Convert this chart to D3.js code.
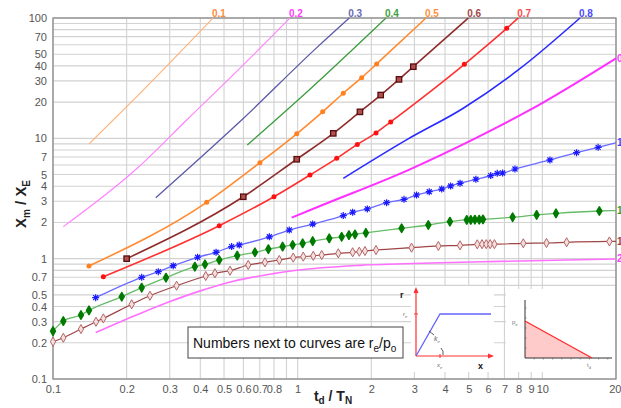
<!DOCTYPE html>
<html><head><meta charset="utf-8">
<script src="https://cdn.jsdelivr.net/npm/d3@7"></script>
<style>
body{margin:0;background:#fff;}
svg{display:block;font-family:"Liberation Sans",Arial,sans-serif;}
</style></head><body>
<svg id="chart" width="621" height="408"></svg>
<script>
// ---------- data ----------
const xTickValues = [0.1,0.2,0.3,0.4,0.5,0.6,0.7,0.8,1,2,3,4,5,6,7,8,9,10,20];
const xTickLabels = ["0.1","0.2","0.3","0.4","0.5","0.6","0.7","0.8","1","2","3","4","5","6","7","8","9","10","20"];
const yTickValues = [0.1,0.2,0.3,0.4,0.5,0.7,1,2,3,4,5,7,10,20,30,40,50,70,100];
const yTickLabels = ["0.1","0.2","0.3","0.4","0.5","0.7","1","2","3","4","5","7","10","20","30","40","50","70","100"];

const curveLabels = ["0.1","0.2","0.3","0.4","0.5","0.6","0.7","0.8","0.9","1.0","1.2","1.5","2.0"];

const c01 = [[0.1403,8.97],[0.2064,19.5],[0.4507,100]];
const c02 = [[0.1102,1.844],[0.2232,5.75],[0.352,14.2],[0.5995,40.7],[0.93,100]];
const c03 = [[0.263,3.21],[0.59,14.2],[1.2,57],[1.625,100]];
const c04 = [[0.6225,8.8],[1.022,21.5],[2.296,100]];
const c05 = [[0.1403,0.869],[0.4247,2.94],[0.701,6.28],[0.991,10.9],[1.265,16.6],[1.536,23.7],[1.826,31.9],[2.103,41.5],[3.345,100]];
const c06 = [[0.2,1.0],[0.5995,3.27],[0.991,6.7],[1.398,11.0],[1.797,16.6],[2.184,22.9],[2.595,30.9],[2.97,39.4],[4.98,100]];
const c07 = [[0.1606,0.708],[0.478,1.88],[0.800,3.27],[1.123,4.96],[1.444,6.82],[1.753,8.9],[2.09,11.1],[2.40,13.7],[4.80,41.2],[7.15,82],[7.97,100]];
const c08 = [[1.536,4.65],[2.806,9.8],[4.75,17.8],[7.97,37],[14.25,100]];
const c09 = [[0.945,2.19],[1.235,2.74],[2.877,5.53],[5.22,9.8],[8.9,17.2],[20,46.2]];
const c10 = [[0.1494,0.474],[0.2304,0.70],[0.2694,0.78],[0.310,0.874],[0.390,1.027],[0.464,1.13],[0.537,1.26],[0.577,1.30],
  [0.766,1.52],[0.924,1.73],[1.152,1.94],[1.536,2.28],[1.678,2.43],[1.926,2.59],[2.31,2.92],[2.72,3.11],[3.06,3.38],
  [3.45,3.60],[3.88,3.79],[4.22,4.02],[4.61,4.23],[5.35,4.57],[6.15,4.90],[6.54,5.12],[6.88,5.15],[7.73,5.56],
  [10.74,6.61],[13.8,7.6],[16.9,8.42],[20,9.2]];
const c12 = [[0.1,0.25],[0.1102,0.303],[0.1301,0.34],[0.1403,0.372],[0.191,0.483],[0.2304,0.574],[0.2896,0.695],
  [0.380,0.858],[0.418,0.898],[0.478,0.975],[0.566,1.06],[0.669,1.13],[0.759,1.20],[0.868,1.26],[0.954,1.30],
  [1.048,1.34],[1.152,1.40],[1.346,1.476],[1.513,1.52],[1.62,1.57],[1.715,1.59],[1.90,1.64],[2.66,1.79],[3.42,1.905],
  [4.19,2.03],[4.91,2.10],[5.10,2.10],[5.30,2.11],[5.52,2.11],[5.72,2.12],[7.56,2.21],[9.48,2.31],[11.37,2.38],[17.1,2.49],[20,2.51]];
const c15 = [[0.1,0.204],[0.1102,0.22],[0.1301,0.26],[0.1499,0.299],[0.1606,0.319],[0.2097,0.418],[0.249,0.492],
  [0.320,0.596],[0.421,0.718],[0.459,0.756],[0.529,0.794],[0.628,0.886],[0.735,0.933],[0.841,0.975],[0.959,1.02],
  [1.054,1.04],[1.158,1.055],[1.254,1.072],[1.466,1.108],[1.678,1.13],[1.786,1.143],[1.884,1.158],[2.09,1.18],
  [2.92,1.234],[3.76,1.275],[4.61,1.29],[5.42,1.316],[5.67,1.32],[5.90,1.32],[6.12,1.32],[6.37,1.32],
  [8.36,1.342],[10.4,1.35],[12.57,1.368],[18.8,1.39],[20,1.392]];
const c20 = [[0.1494,0.243],[0.2232,0.345],[0.3007,0.440],[0.40,0.54],[0.546,0.65],[0.747,0.735],[0.99,0.80],[1.8,0.88],[3.5,0.92],[6.7,0.95],[20,0.994]];

// ---------- layout ----------
const svg = d3.select("#chart");
const L = 53, R = 616, T = 18, B = 379;
const x = d3.scaleLog().domain([0.1,20]).range([L,R]);
const y = d3.scaleLog().domain([0.1,100]).range([B,T]);

// grid
const xGrid = [], yGrid = [];
[0.1,1].forEach(d=>{for(let k=1;k<10;k++) xGrid.push(d*k);}); xGrid.push(10,20);
[0.1,1,10].forEach(d=>{for(let k=1;k<10;k++) yGrid.push(d*k);}); yGrid.push(100);
const grid = svg.append("g");
grid.selectAll(".vg").data(xGrid).join("line").attr("x1",d=>x(d)).attr("x2",d=>x(d)).attr("y1",T).attr("y2",B)
  .attr("stroke","#d2d2d2").attr("stroke-width",1.1);
grid.selectAll(".hg").data(yGrid).join("line").attr("y1",d=>y(d)).attr("y2",d=>y(d)).attr("x1",L).attr("x2",R)
  .attr("stroke","#d2d2d2").attr("stroke-width",1.1);
svg.append("rect").attr("x",L).attr("y",T).attr("width",R-L).attr("height",B-T)
  .attr("fill","none").attr("stroke","#8a8a8a").attr("stroke-width",1.3);

// axes (labels only)
const xAxis = d3.axisBottom(x).tickValues(xTickValues).tickFormat((d,i)=>xTickLabels[i]).tickSize(0).tickPadding(6);
const gx = svg.append("g").attr("transform",`translate(0,${B})`).call(xAxis);
gx.select(".domain").remove();
gx.selectAll("text").attr("fill","#555").attr("font-size",11).attr("font-family","Liberation Sans, Arial, sans-serif");
gx.selectAll(".tick").filter(d=>d===20).select("text").attr("text-anchor","end").attr("x",5);
const yAxis = d3.axisLeft(y).tickValues(yTickValues).tickFormat((d,i)=>yTickLabels[i]).tickSize(0).tickPadding(6);
const gy = svg.append("g").attr("transform",`translate(${L},0)`).call(yAxis);
gy.select(".domain").remove();
gy.selectAll("text").attr("fill","#555").attr("font-size",11).attr("font-family","Liberation Sans, Arial, sans-serif");

// axis titles
const yt = svg.append("text").attr("transform","translate(26,204) rotate(-90)").attr("text-anchor","middle")
  .attr("font-weight","bold").attr("font-size",15).attr("fill","#222");
yt.append("tspan").text("X");
yt.append("tspan").text("m").attr("font-size",10).attr("dy",4);
yt.append("tspan").text(" / X").attr("dy",-4);
yt.append("tspan").text("E").attr("font-size",10).attr("dy",4);
const xt = svg.append("text").attr("x",333).attr("y",401).attr("text-anchor","middle")
  .attr("font-weight","bold").attr("font-size",14).attr("fill","#222");
xt.append("tspan").text("t");
xt.append("tspan").text("d").attr("font-size",10).attr("dy",3);
xt.append("tspan").text(" / T").attr("dy",-3);
xt.append("tspan").text("N").attr("font-size",10).attr("dy",3);

// curves
const curves = [
  {data:c01, label:curveLabels[0], color:"#ffb27a", lc:"#ff8c40", w:1.1, pos:"top"},
  {data:c02, label:curveLabels[1], color:"#ff80ff", lc:"#ff40ff", w:1.1, pos:"top"},
  {data:c03, label:curveLabels[2], color:"#5a5aa8", lc:"#6a6ab8", w:1.3, pos:"top"},
  {data:c04, label:curveLabels[3], color:"#3c9c3c", lc:"#40a040", w:1.3, pos:"top"},
  {data:c05, label:curveLabels[4], color:"#ff8a30", lc:"#ff9040", w:1.6, pos:"top", m:"dotO"},
  {data:c06, label:curveLabels[5], color:"#8e2c2c", lc:"#a04848", w:1.6, pos:"top", m:"square"},
  {data:c07, label:curveLabels[6], color:"#ff3030", lc:"#ff4a4a", w:1.6, pos:"top", m:"dotR"},
  {data:c08, label:curveLabels[7], color:"#2a2aff", lc:"#4a4aff", w:1.6, pos:"top"},
  {data:c09, label:curveLabels[8], color:"#ff30ff", lc:"#ff40ff", w:2, pos:"right"},
  {data:c10, label:curveLabels[9], color:"#6a6aff", lc:"#4040ff", w:1.3, pos:"right", m:"star"},
  {data:c12, label:curveLabels[10], color:"#66bb66", lc:"#30a030", w:1.3, pos:"right", m:"diamondF"},
  {data:c15, label:curveLabels[11], color:"#a04545", lc:"#a04040", w:1.2, pos:"right", m:"diamondH"},
  {data:c20, label:curveLabels[12], color:"#ff70ff", lc:"#ff40ff", w:1.6, pos:"right"}
];
const line = d3.line().x(d=>x(d[0])).y(d=>y(d[1])).curve(d3.curveMonotoneX);
const cg = svg.append("g");
curves.forEach(c=>{
  cg.append("path").attr("d",line(c.data)).attr("fill","none").attr("stroke",c.color).attr("stroke-width",c.w);
  if(c.m){
    const pts = c.data.filter(d=>d[1]<100 && d[0]<20);
    const g = cg.append("g");
    pts.forEach(d=>{
      const px=x(d[0]), py=y(d[1]);
      if(c.m==="dotO") g.append("circle").attr("cx",px).attr("cy",py).attr("r",2.5).attr("fill","#ff8020");
      if(c.m==="dotR") g.append("circle").attr("cx",px).attr("cy",py).attr("r",2.5).attr("fill","#ff1010");
      if(c.m==="square") g.append("rect").attr("x",px-2.7).attr("y",py-2.7).attr("width",5.4).attr("height",5.4)
          .attr("fill","#b05050").attr("stroke","#5a0c0c").attr("stroke-width",1.3);
      if(c.m==="star"){
        g.append("path").attr("d",`M${px-3.5},${py}H${px+3.5}M${px},${py-3.5}V${py+3.5}M${px-2.5},${py-2.5}L${px+2.5},${py+2.5}M${px-2.5},${py+2.5}L${px+2.5},${py-2.5}`)
          .attr("stroke","#1a1aff").attr("stroke-width",1.2).attr("fill","none");
      }
      if(c.m==="diamondF") g.append("path").attr("transform",`translate(${px},${py})`)
          .attr("d",d3.symbol(d3.symbolDiamond,20)()).attr("fill","#007a00").attr("stroke","#007a00")
          .attr("stroke-width",1.6).attr("stroke-linejoin","round");
      if(c.m==="diamondH") g.append("path").attr("transform",`translate(${px},${py})`)
          .attr("d",d3.symbol(d3.symbolDiamond,24)()).attr("fill","#f4dede").attr("stroke","#b46464").attr("stroke-width",1);
    });
  }
  const last = c.data[c.data.length-1];
  if(c.pos==="top"){
    cg.append("text").attr("x",x(last[0])-1).attr("y",T-1).text(c.label)
      .attr("font-size",10).attr("font-weight","bold").attr("fill",c.lc);
  } else {
    cg.append("text").attr("x",R+1).attr("y",y(last[1])+3.5).text(c.label)
      .attr("font-size",10).attr("font-weight","bold").attr("fill",c.lc);
  }
});

// legend box
const lg = svg.append("g");
lg.append("rect").attr("x",188).attr("y",327).attr("width",215).attr("height",31)
  .attr("fill","#fff").attr("stroke","#444").attr("stroke-width",1);
const lt = lg.append("text").attr("x",193).attr("y",348).attr("font-size",14).attr("fill","#111");
lt.append("tspan").text("Numbers next to curves are r");
lt.append("tspan").text("e").attr("font-size",10).attr("dy",4);
lt.append("tspan").text("/p").attr("dy",-4);
lt.append("tspan").text("o").attr("font-size",10).attr("dy",4);

// inset 1: resistance function
const i1 = svg.append("g");
i1.append("rect").attr("x",411).attr("y",286).attr("width",83).attr("height",86).attr("fill","#fff");
i1.append("line").attr("x1",416).attr("y1",356).attr("x2",416).attr("y2",290).attr("stroke","#ff3030").attr("stroke-width",1.2);
i1.append("path").attr("d","M416,287 L413.5,293 L418.5,293 Z").attr("fill","#ff3030");
i1.append("line").attr("x1",416).attr("y1",356).attr("x2",490).attr("y2",356).attr("stroke","#ff3030").attr("stroke-width",1.2);
i1.append("path").attr("d","M494,356 L488,353.5 L488,358.5 Z").attr("fill","#ff3030");
i1.append("line").attr("x1",414).attr("y1",314).attr("x2",418).attr("y2",314).attr("stroke","#ff3030");
i1.append("line").attr("x1",440).attr("y1",354).attr("x2",440).attr("y2",358).attr("stroke","#ff3030");
i1.append("path").attr("d","M416,356 L440,314 L491,314").attr("fill","none").attr("stroke","#6464ff").attr("stroke-width",1.3);
i1.append("path").attr("d","M429,331 L434,335").attr("stroke","#333").attr("stroke-width",0.8);
i1.append("path").attr("d","M441,348 Q444,351 443,355").attr("fill","none").attr("stroke","#333").attr("stroke-width",0.8);
i1.append("text").attr("x",400).attr("y",298).text("r").attr("font-size",9).attr("font-weight","bold").attr("fill","#111");
const re = i1.append("text").attr("x",403).attr("y",316).attr("font-size",6).attr("font-style","italic").attr("fill","#666");
re.append("tspan").text("r"); re.append("tspan").text("e").attr("font-size",4).attr("dy",2);
const ke = i1.append("text").attr("x",434).attr("y",341).attr("font-size",7).attr("font-style","italic").attr("fill","#666");
ke.append("tspan").text("k"); ke.append("tspan").text("e").attr("font-size",4).attr("dy",2);
const xe = i1.append("text").attr("x",437).attr("y",367).attr("font-size",6).attr("font-style","italic").attr("fill","#666");
xe.append("tspan").text("x"); xe.append("tspan").text("e").attr("font-size",4).attr("dy",2);
i1.append("text").attr("x",478).attr("y",369).text("x").attr("font-size",9).attr("font-weight","bold").attr("fill","#111");

// inset 2: triangular load
const i2 = svg.append("g");
i2.append("rect").attr("x",506).attr("y",289).attr("width",109).attr("height",83).attr("fill","#fff");
i2.append("path").attr("d","M525,321 L592,358 L525,358 Z").attr("fill","#ffcaca");
i2.append("line").attr("x1",525).attr("y1",300).attr("x2",525).attr("y2",358).attr("stroke","#333").attr("stroke-width",1);
i2.append("line").attr("x1",525).attr("y1",358).attr("x2",612).attr("y2",358).attr("stroke","#333").attr("stroke-width",1);
for(let k=1;k<10;k++){ i2.append("line").attr("x1",525+k*9.2).attr("x2",525+k*9.2).attr("y1",358).attr("y2",359.5).attr("stroke","#555").attr("stroke-width",0.6); }
for(let k=1;k<6;k++){ i2.append("line").attr("x1",525).attr("x2",526.5).attr("y1",358-k*10).attr("y2",358-k*10).attr("stroke","#555").attr("stroke-width",0.6); }
i2.append("line").attr("x1",525).attr("y1",321).attr("x2",592).attr("y2",358).attr("stroke","#ff2a2a").attr("stroke-width",1.3);
const po = i2.append("text").attr("x",512).attr("y",324).attr("font-size",6).attr("fill","#777");
po.append("tspan").text("p"); po.append("tspan").text("o").attr("font-size",4).attr("dy",1.5);
const td = i2.append("text").attr("x",587).attr("y",367).attr("font-size",6).attr("fill","#777");
td.append("tspan").text("t"); td.append("tspan").text("d").attr("font-size",4).attr("dy",1.5);
</script>
</body></html>
